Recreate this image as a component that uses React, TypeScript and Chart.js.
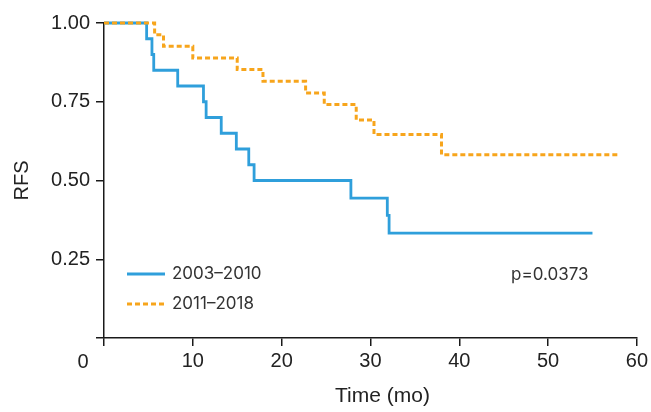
import React, { useEffect, useRef } from "react";
import { Chart, registerables } from "chart.js";

Chart.register(...registerables);

// Kaplan–Meier step points (time in months, RFS)
const group1Label = "2003–2010";
const group1Times = [0, 4.8, 5.4, 5.6, 8.3, 11.2, 11.5, 13.2, 14.9, 16.3, 16.9, 27.8, 31.9, 32.1, 55];
const group1RFS = [1, 0.95, 0.9, 0.85, 0.8, 0.75, 0.7, 0.65, 0.6, 0.55, 0.5, 0.444, 0.389, 0.333, 0.333];

const group2Label = "2011–2018";
const group2Times = [0, 5.7, 6.7, 10.0, 15.0, 17.9, 22.7, 24.8, 28.4, 30.4, 38.0, 58];
const group2RFS = [1, 0.963, 0.926, 0.889, 0.852, 0.815, 0.778, 0.741, 0.692, 0.646, 0.582, 0.582];

const xTickValues = [0, 10, 20, 30, 40, 50, 60];
const yTickValues = [0, 0.25, 0.5, 0.75, 1.0];
const pValueText = "p=0.0373";
const xTitle = "Time (mo)";
const yTitle = "RFS";

const BLUE = "#2f9fdb";
const ORANGE = "#f7a51c";
const AXIS = "#1a1a1a";
const FAMILY = "'Liberation Sans', Arial, sans-serif";
const TICK_FONT = { family: FAMILY, size: 20 };
const TITLE_FONT = { family: FAMILY, size: 21 };
const NOTE_FONT = "17px Inter, 'Noto Sans', sans-serif";

export default function App() {
  const ref = useRef<HTMLCanvasElement | null>(null);

  useEffect(() => {
    if (!ref.current) return;
    const toPts = (xs: number[], ys: number[]) => xs.map((x, i) => ({ x, y: ys[i] }));

    const overlay = {
      id: "overlay",
      afterDraw(chart: any) {
        const { ctx, chartArea } = chart;
        const L = chartArea.left;
        ctx.save();
        // origin "0" label, placed left of the axis corner
        ctx.fillStyle = "#222";
        ctx.font = `${TICK_FONT.size}px ${TICK_FONT.family}`;
        ctx.textAlign = "center";
        ctx.textBaseline = "middle";
        ctx.fillText("0", L - 21, chartArea.bottom + 24);

        // x axis title (slightly right of centre, as in the original)
        ctx.font = `${TITLE_FONT.size}px ${TITLE_FONT.family}`;
        ctx.fillText(xTitle, (chartArea.left + chartArea.right) / 2 + 12, 396);

        // legend
        const lx0 = L + 23;
        const lx1 = L + 61;
        const ly1 = 274;
        const ly2 = 304;
        ctx.lineWidth = 3;
        ctx.strokeStyle = BLUE;
        ctx.setLineDash([]);
        ctx.beginPath();
        ctx.moveTo(lx0, ly1);
        ctx.lineTo(lx1, ly1);
        ctx.stroke();
        ctx.strokeStyle = ORANGE;
        ctx.lineWidth = 3;
        ctx.setLineDash([5, 3]);
        ctx.beginPath();
        ctx.moveTo(lx0, ly2);
        ctx.lineTo(lx1, ly2);
        ctx.stroke();
        ctx.setLineDash([]);
        ctx.font = NOTE_FONT;
        ctx.textAlign = "left";
        ctx.fillStyle = "#333";
        ctx.fillText(group1Label, lx1 + 7, ly1);
        ctx.fillText(group2Label, lx1 + 7, ly2);
        // p value
        ctx.fillText(pValueText, 511, 275);
        ctx.restore();
      },
    };

    const chart = new Chart(ref.current, {
      type: "line",
      data: {
        datasets: [
          {
            label: group1Label,
            data: toPts(group1Times, group1RFS),
            borderColor: BLUE,
            borderWidth: 2.8,
            stepped: "before",
            pointRadius: 0,
            fill: false,
            clip: false,
            order: 2,
          },
          {
            label: group2Label,
            data: toPts(group2Times, group2RFS),
            borderColor: ORANGE,
            borderWidth: 3,
            borderDash: [5, 3],
            stepped: "before",
            pointRadius: 0,
            fill: false,
            clip: false,
            order: 1,
          },
        ],
      },
      options: {
        animation: false,
        responsive: false,
        layout: { padding: { top: 23, right: 12, left: 0, bottom: 0 } },
        plugins: { legend: { display: false }, tooltip: { enabled: false } },
        scales: {
          x: {
            type: "linear",
            min: 0,
            max: 60,
            afterBuildTicks: (s: any) => {
              s.ticks = xTickValues.map((v) => ({ value: v }));
            },
            afterFit: (s: any) => {
              s.height = 74;
            },
            ticks: {
              font: TICK_FONT,
              color: "#222",
              padding: 3,
              maxRotation: 0,
              callback: (v: any) => (v === 0 ? "" : String(v)),
            },
            grid: { drawOnChartArea: false, drawTicks: true, tickLength: 8, color: AXIS, lineWidth: 1.5 },
            border: { color: AXIS, width: 1.5 },
            title: { display: false, text: xTitle },
          },
          y: {
            type: "linear",
            min: 0,
            max: 1,
            afterBuildTicks: (s: any) => {
              s.ticks = yTickValues.map((v) => ({ value: v }));
            },
            afterFit: (s: any) => {
              s.width = 104;
            },
            ticks: {
              font: TICK_FONT,
              color: "#222",
              padding: 6,
              callback: (v: any) => (v === 0 ? "" : Number(v).toFixed(2)),
            },
            grid: { drawOnChartArea: false, drawTicks: true, tickLength: 8, color: AXIS, lineWidth: 1.5 },
            border: { color: AXIS, width: 1.5 },
            title: { display: true, text: yTitle, font: TICK_FONT, color: "#222", padding: { top: 10, bottom: 0 } },
          },
        },
      },
      plugins: [overlay],
    });
    return () => chart.destroy();
  }, []);

  return (
    <div style={{ position: "fixed", left: 0, top: 0, width: 651, height: 412, background: "#fff" }}>
      <canvas ref={ref} width={651} height={412} style={{ display: "block" }} />
    </div>
  );
}
